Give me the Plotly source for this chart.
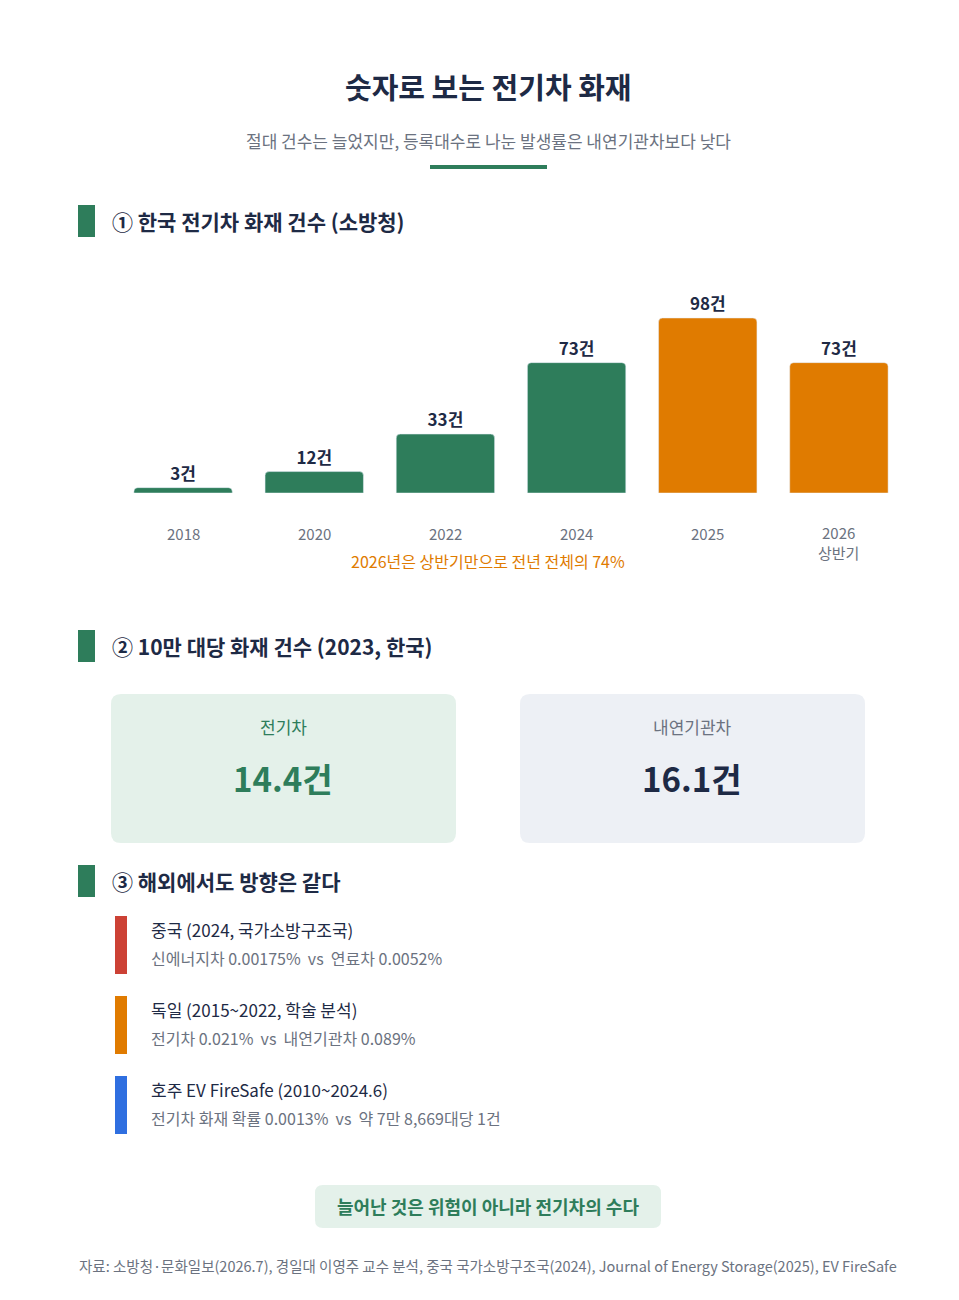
import plotly.graph_objects as go

W, H = 959, 1300
GREEN = '#2e7d5b'
ORANGE = '#e07b00'
NAVY = '#1e2a45'
GRAY = '#6b7280'
FONT = 'Noto Sans CJK KR'

years = ['2018', '2020', '2022', '2024', '2025', '2026']
fires = [3, 12, 33, 73, 98, 73]
colors = [GREEN, GREEN, GREEN, GREEN, ORANGE, ORANGE]


def px(x):
    return x / W


def py(y):
    return 1 - y / H


def rrect(x0, y0, x1, y1, r, fill):
    # rounded rectangle in pixel coords -> paper path
    rx, ry = r / W, r / H
    a, b, c, d = px(x0), py(y1), px(x1), py(y0)
    path = (f'M{a+rx},{b} L{c-rx},{b} Q{c},{b} {c},{b+ry} L{c},{d-ry} Q{c},{d} {c-rx},{d} '
            f'L{a+rx},{d} Q{a},{d} {a},{d-ry} L{a},{b+ry} Q{a},{b} {a+rx},{b} Z')
    return dict(type='path', path=path, xref='paper', yref='paper', fillcolor=fill, line=dict(width=0), layer='below')


def box(x0, y0, x1, y1, fill):
    return dict(type='rect', xref='paper', yref='paper', x0=px(x0), x1=px(x1), y0=py(y1), y1=py(y0),
                fillcolor=fill, line=dict(width=0))


annotations = []


def text(x, y, s, size, color, bold=False, anchor='center'):
    if bold:
        s = '<b>' + s + '</b>'
    annotations.append(dict(x=px(x), y=py(y), xref='paper', yref='paper', text=s, showarrow=False,
                            xanchor=anchor, yanchor='middle', font=dict(size=size, color=color, family=FONT)))


fig = go.Figure()
fig.add_trace(go.Bar(
    x=years, y=fires, marker=dict(color=colors), marker_cornerradius=4,
    text=[f'{v}건' for v in fires], textposition='outside', cliponaxis=False,
    textfont=dict(size=17, color=NAVY, family=FONT), texttemplate='<b>%{text}</b>',
    hoverinfo='skip',
))

ppu = 175 / 98
fig.update_xaxes(domain=[px(109.5), px(896.5)], showticklabels=False, showgrid=False, zeroline=False)
fig.update_yaxes(domain=[py(485), py(260)], range=[0, 225 / ppu], visible=False)

shapes = []
# title
text(480, 78, '숫자로 보는 전기차 화재', 29, NAVY, True)
text(480, 132, '절대 건수는 늘었지만, 등록대수로 나눈 발생률은 내연기관차보다 낮다', 17, GRAY)
shapes.append(box(422, 157, 539, 161, GREEN))

# section headers
for y, s in [(213, '① 한국 전기차 화재 건수 (소방청)'), (638, '② 10만 대당 화재 건수 (2023, 한국)'),
             (873, '③ 해외에서도 방향은 같다')]:
    shapes.append(box(70, y - 16, 87, y + 16, GREEN))
    text(102, y, s, 21, NAVY, True, 'left')

# x labels
for i, yr in enumerate(years):
    lab = yr if yr != '2026' else '2026<br>상반기'
    text(175 + 131 * i, 525 if yr != '2026' else 534, lab, 15, GRAY)
text(480, 553, '2026년은 상반기만으로 전년 전체의 74%', 16, ORANGE)

# cards
shapes.append(rrect(103, 686, 448, 835, 10, '#e4f1ea'))
shapes.append(rrect(512, 686, 857, 835, 10, '#edf0f5'))
text(275, 719, '전기차', 17, GREEN)
text(275, 770, '14.4건', 33, GREEN, True)
text(684, 719, '내연기관차', 17, GRAY)
text(684, 770, '16.1건', 33, NAVY, True)

# overseas
items = [
    ('#cc4135', '중국 (2024, 국가소방구조국)', '신에너지차 0.00175%  vs  연료차 0.0052%'),
    (ORANGE, '독일 (2015~2022, 학술 분석)', '전기차 0.021%  vs  내연기관차 0.089%'),
    ('#2f6fe0', '호주 EV FireSafe (2010~2024.6)', '전기차 화재 확률 0.0013%  vs  약 7만 8,669대당 1건'),
]
for i, (c, t, s) in enumerate(items):
    y0 = 908 + 80 * i
    shapes.append(box(107, y0, 119, y0 + 58, c))
    text(141, y0 + 13, t, 17, NAVY, False, 'left')
    text(141, y0 + 42, s, 16, GRAY, False, 'left')

shapes.append(rrect(307, 1177, 653, 1220, 8, '#e4f1ea'))
text(480, 1198, '늘어난 것은 위험이 아니라 전기차의 수다', 18, GREEN, True)
text(480, 1257, '자료: 소방청·문화일보(2026.7), 경일대 이영주 교수 분석, 중국 국가소방구조국(2024), Journal of Energy Storage(2025), EV FireSafe',
     14.5, GRAY)

fig.update_layout(
    width=W, height=H, margin=dict(l=0, r=0, t=0, b=0),
    paper_bgcolor='white', plot_bgcolor='white', bargap=0.25, showlegend=False,
    shapes=shapes, annotations=annotations, font=dict(family=FONT),
)
fig.write_html('out.html')
